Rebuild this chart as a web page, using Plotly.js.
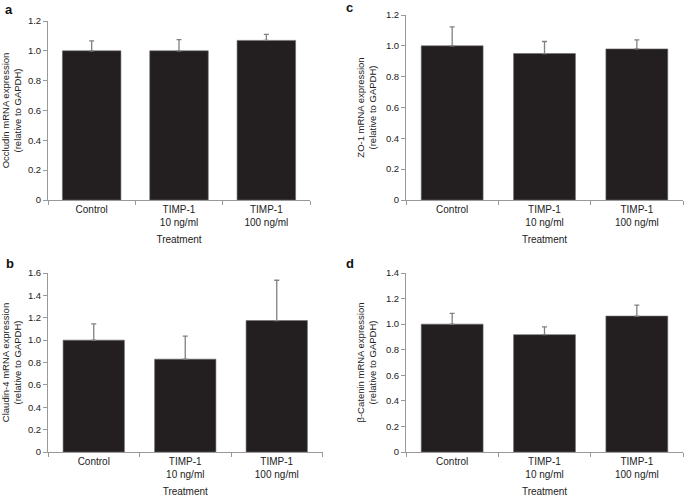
<!DOCTYPE html>
<html>
<head>
<meta charset="utf-8">
<script src="https://cdn.plot.ly/plotly-3.0.1.min.js"></script>
<style>html,body{margin:0;padding:0;background:#fff;}#chart{width:685px;height:497px;}</style>
</head>
<body>
<div id="chart"></div>
<script>
// ---- data ----
const categories = ["Control", "TIMP-1<br>10 ng/ml", "TIMP-1<br>100 ng/ml"];

const occludinValues = [1.0, 1.0, 1.07];
const occludinErrors = [0.067, 0.075, 0.04];

const claudinValues = [1.0, 0.83, 1.175];
const claudinErrors = [0.145, 0.205, 0.36];

const zo1Values = [1.0, 0.95, 0.98];
const zo1Errors = [0.123, 0.078, 0.058];

const cateninValues = [1.0, 0.918, 1.063];
const cateninErrors = [0.084, 0.06, 0.086];

const ticks12 = [0, 0.2, 0.4, 0.6, 0.8, 1.0, 1.2];
const ticks12Text = ["0", "0.2", "0.4", "0.6", "0.8", "1.0", "1.2"];
const ticks14 = [0, 0.2, 0.4, 0.6, 0.8, 1.0, 1.2, 1.4];
const ticks14Text = ["0", "0.2", "0.4", "0.6", "0.8", "1.0", "1.2", "1.4"];
const ticks16 = [0, 0.2, 0.4, 0.6, 0.8, 1.0, 1.2, 1.4, 1.6];
const ticks16Text = ["0", "0.2", "0.4", "0.6", "0.8", "1.0", "1.2", "1.4", "1.6"];

const yTitles = {
  a: "Occludin mRNA expression<br>(relative to GAPDH)",
  b: "Claudin-4 mRNA expression<br>(relative to GAPDH)",
  c: "ZO-1 mRNA expression<br>(relative to GAPDH)",
  d: "β-Catenin mRNA expression<br>(relative to GAPDH)"
};
const xTitle = "Treatment";

// ---- styling ----
const W = 685, H = 497;
const FONT = "Liberation Sans, Arial, sans-serif";
const TXT = "#222";
const AX = "#999";
const BAR = "#231f20";
const ERR = "#808080";

function bar(vals, errs, xa, ya) {
  return {
    type: "bar", x: categories, y: vals, xaxis: xa, yaxis: ya,
    marker: {color: BAR, line: {color: "#6a6a6a", width: 0.6}},
    error_y: {type: "data", symmetric: false, array: errs, arrayminus: errs.map(() => 0),
              color: ERR, thickness: 1.3, width: 2.5},
    hoverinfo: "none", showlegend: false
  };
}

function dx(l, r) { return [l / W, r / W]; }
function dy(t, b) { return [1 - b / H, 1 - t / H]; }

function xaxis(domain, anchor) {
  return {
    domain: domain, anchor: anchor, type: "category",
    showline: true, linecolor: AX, linewidth: 1,
    ticks: "outside", tickson: "boundaries", ticklen: 4, tickcolor: AX,
    showgrid: false, zeroline: false,
    tickfont: {family: FONT, size: 10, color: TXT},
    title: {text: xTitle, font: {family: FONT, size: 10, color: TXT}, standoff: 8},
    fixedrange: true
  };
}
function yaxis(domain, anchor, range, tv, tt, title) {
  return {
    domain: domain, anchor: anchor, range: range,
    showline: true, linecolor: AX, linewidth: 1,
    ticks: "outside", ticklen: 4, tickcolor: AX,
    tickvals: tv, ticktext: tt,
    showgrid: false, zeroline: false,
    tickfont: {family: FONT, size: 9.5, color: TXT},
    title: {text: title, font: {family: FONT, size: 9.5, color: TXT}, standoff: 7},
    fixedrange: true
  };
}

const data = [
  bar(occludinValues, occludinErrors, "x", "y"),
  bar(zo1Values, zo1Errors, "x2", "y2"),
  bar(claudinValues, claudinErrors, "x3", "y3"),
  bar(cateninValues, cateninErrors, "x4", "y4")
];

function letter(t, x, y) {
  return {text: "<b>" + t + "</b>", xref: "paper", yref: "paper",
          x: x / W, y: 1 - y / H, xanchor: "left", yanchor: "middle",
          showarrow: false, font: {family: FONT, size: 13, color: "#111"}};
}

const layout = {
  width: W, height: H,
  margin: {l: 0, r: 0, t: 0, b: 0},
  paper_bgcolor: "#fff", plot_bgcolor: "#fff",
  bargap: 0.33,
  xaxis: xaxis(dx(48, 310), "y"),
  yaxis: yaxis(dy(21, 200), "x", [0, 1.2], ticks12, ticks12Text, yTitles.a),
  xaxis2: xaxis(dx(406, 683), "y2"),
  yaxis2: yaxis(dy(15, 200), "x2", [0, 1.2], ticks12, ticks12Text, yTitles.c),
  xaxis3: xaxis(dx(48, 322.5), "y3"),
  yaxis3: yaxis(dy(273, 452), "x3", [0, 1.6], ticks16, ticks16Text, yTitles.b),
  xaxis4: xaxis(dx(406, 683), "y4"),
  yaxis4: yaxis(dy(273, 452), "x4", [0, 1.4], ticks14, ticks14Text, yTitles.d),
  annotations: [
    letter("a", 3, 9),
    letter("c", 344, 8),
    letter("b", 4, 263),
    letter("d", 344, 263)
  ]
};

Plotly.newPlot("chart", data, layout, {staticPlot: true, displayModeBar: false});
</script>
</body>
</html>
